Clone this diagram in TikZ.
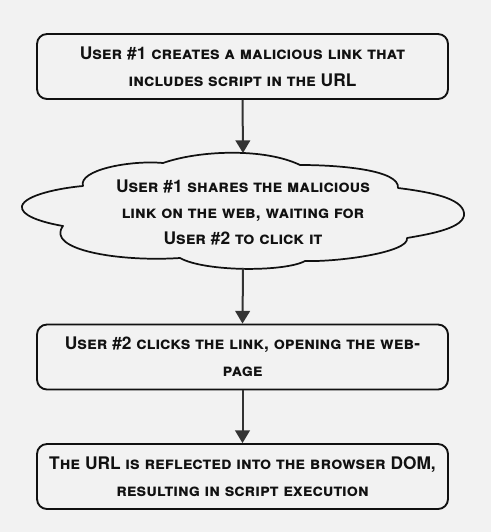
\documentclass[tikz,border=0pt]{standalone}
\usepackage{fontspec}
\setmainfont{TeX Gyre Heros}
\usetikzlibrary{arrows.meta}
\definecolor{bgc}{HTML}{F2F2F2}
\definecolor{ink}{HTML}{111111}
\definecolor{arrowc}{HTML}{333333}
\tikzset{
  stepbox/.style={draw=ink, line width=1.4pt, rounded corners=7.5pt,
    minimum width=308.25pt, minimum height=48.75pt, inner sep=0pt,
    align=center, text=ink, font=\fontsize{13}{20}\selectfont\bfseries\scshape},
  cloudtext/.style={align=center, text=ink, inner sep=0pt,
    font=\fontsize{13}{19.5}\selectfont\bfseries\scshape},
  cloudline/.style={draw=ink, line width=1.3pt, line join=round},
  flow/.style={draw=arrowc, line width=1.5pt,
    -{Triangle[width=11pt,length=9.5pt]}}
}
\begin{document}
\begin{tikzpicture}[x=0.75pt,y=-0.75pt]
\fill[bgc] (0,0) rectangle (491,532);
\useasboundingbox (0,0) rectangle (491,532);

\node[stepbox] (s1) at (242.5,66.5) {User \#1 creates a malicious link that\\includes script in the URL};

% cloud outline
\draw[cloudline] (83,186)
  .. controls (78,170) and (130,160) .. (163,163)
  .. controls (200,150) and (265,148) .. (300,165)
  .. controls (340,165) and (400,170) .. (398,188)
  .. controls (430,192) and (462,198) .. (464,213)
  .. controls (466,228) and (430,234) .. (407,238)
  .. controls (410,252) and (340,262) .. (305,261)
  .. controls (285,272) and (205,272) .. (180,258)
  .. controls (120,262) and (45,250) .. (63,226)
  .. controls (40,222) and (20,215) .. (22,206)
  .. controls (25,195) and (60,188) .. (83,186) -- cycle;
\coordinate (cloudtop) at (243,153);
\coordinate (cloudbot) at (243,268);
\node[cloudtext] (s2) at (243,212) {User \#1 shares the malicious\\link on the web, waiting for\\User \#2 to click it};

\node[stepbox] (s3) at (242.5,357) {User \#2 clicks the link, opening the web-\\page};
\node[stepbox] (s4) at (242.5,476.5) {The URL is reflected into the browser DOM,\\resulting in script execution};

\draw[flow] (s1.south) -- (cloudtop);
\draw[flow] (cloudbot) -- (s3.north);
\draw[flow] (s3.south) -- (s4.north);
\end{tikzpicture}
\end{document}
